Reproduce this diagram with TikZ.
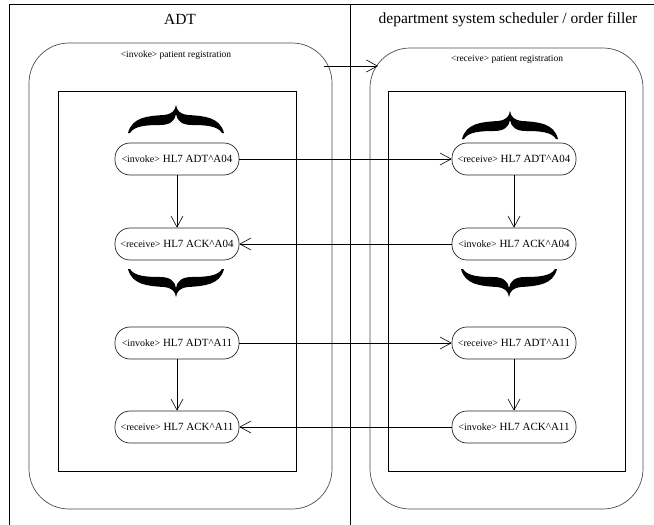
\documentclass[tikz,border=0pt]{standalone}
\usepackage{fontspec}
\setmainfont{Liberation Serif}
\usetikzlibrary{arrows.meta}

\newcommand\msgtext[2]{{\fontsize{10}{11}\selectfont<#1>} HL7 #2}

\tikzset{
    msg/.style={draw=black!85, line width=0.7pt, rectangle, rounded corners=15pt, minimum width=124pt,
        minimum height=32pt, inner xsep=1pt, font=\fontsize{11}{13}\selectfont},
    flow/.style={-{Straight Barb[length=11pt,width=12pt]}, line width=0.6pt},
    proc/.style={draw=black!70, rounded corners=40pt, line width=0.7pt},
    lane/.style={line width=0.7pt},
    curly/.pic={
        \fill (0,-28) .. controls (1,-22) and (4,-19) .. (12,-18)
            .. controls (28,-17) and (44,-16) .. (48,0) -- (46,0)
            .. controls (42,-7) and (30,-8) .. (16,-8)
            .. controls (6,-8) and (1,-12) .. (0,-19)
            .. controls (-1,-12) and (-6,-8) .. (-16,-8)
            .. controls (-30,-8) and (-42,-7) .. (-46,0) -- (-48,0)
            .. controls (-44,-16) and (-28,-17) .. (-12,-18)
            .. controls (-4,-19) and (-1,-22) .. (0,-28) -- cycle;
    }
}

\begin{document}
\begin{tikzpicture}[x=1pt,y=-1pt]
\useasboundingbox (0,0) rectangle (654,525);

% swimlanes
\draw[lane] (9,525) -- (9,4) -- (654,4);
\draw[lane] (350,4) -- (350,525);
\node (adtlane) at (180,19.5) {\fontsize{15.5}{18}\selectfont ADT};
\node (dsslane) at (508,19.5) {\fontsize{15.5}{18}\selectfont department system scheduler / order filler};

% processes
\draw[proc] (29,43) rectangle (332,509);
\draw[lane] (58,91) rectangle (296,471);
\draw[proc] (370,48) rectangle (643,509);
\draw[lane] (388,91) rectangle (625,471);
\node (regsend) at (176,55) {\fontsize{9.5}{11}\selectfont <invoke> patient registration};
\node (regrecv) at (507,59) {\fontsize{9.5}{11}\selectfont <receive> patient registration};

\coordinate (regout) at (324,66);
\coordinate (regin) at (378,66);
\draw[flow] (regout) -- (regin);

% braces
\pic at (176,133) {curly};
\pic at (510,139) {curly};
\pic[yscale=-1] at (176,269) {curly};
\pic[yscale=-1] at (509,269) {curly};

% messages ADT side
\node[msg] (adtA04) at (177,159) {\msgtext{invoke}{ADT\textasciicircum A04}};
\node[msg] (ackA04) at (177,244) {\msgtext{receive}{ACK\textasciicircum A04}};
\node[msg] (adtA11) at (177,343) {\msgtext{invoke}{ADT\textasciicircum A11}};
\node[msg] (ackA11) at (177,427) {\msgtext{receive}{ACK\textasciicircum A11}};

% messages scheduler side
\node[msg] (adtA04r) at (514,159) {\msgtext{receive}{ADT\textasciicircum A04}};
\node[msg] (ackA04r) at (514,244) {\msgtext{invoke}{ACK\textasciicircum A04}};
\node[msg] (adtA11r) at (514,343) {\msgtext{receive}{ADT\textasciicircum A11}};
\node[msg] (ackA11r) at (514,427) {\msgtext{invoke}{ACK\textasciicircum A11}};

\draw[flow] (adtA04) -- (ackA04);
\draw[flow] (adtA11) -- (ackA11);
\draw[flow] (adtA04r) -- (ackA04r);
\draw[flow] (adtA11r) -- (ackA11r);

\draw[flow] (adtA04) -- (adtA04r);
\draw[flow] (ackA04r) -- (ackA04);
\draw[flow] (adtA11) -- (adtA11r);
\draw[flow] (ackA11r) -- (ackA11);

\end{tikzpicture}
\end{document}
